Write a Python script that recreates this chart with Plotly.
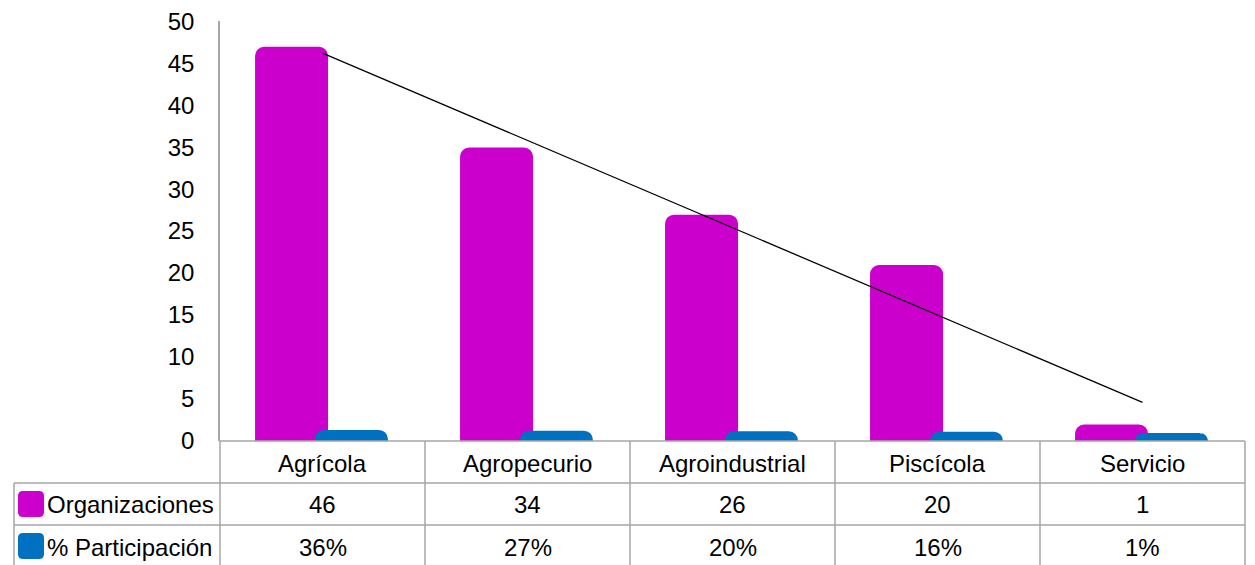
import numpy as np
import plotly.graph_objects as go

# ---- data ----
categories = ["Agrícola", "Agropecurio", "Agroindustrial", "Piscícola", "Servicio"]
organizaciones = [46, 34, 26, 20, 1]
participacion = [0.36, 0.27, 0.20, 0.16, 0.01]
series_names = ["Organizaciones", "% Participación"]
y_ticks = [0, 5, 10, 15, 20, 25, 30, 35, 40, 45, 50]

MAGENTA = "#CC00CC"
BLUE = "#0070C0"
GRID = "#A6A6A6"
FONT = "Liberation Sans, Arial, sans-serif"
FS = 24

OFF = 8  # page body margin
W, H = 1255 - OFF, 565 - OFF
L, R, T, B = 220 - OFF, 1245 - OFF, 21 - OFF, 441 - OFF


def px(x):
    return (x - OFF - L) / (R - L)


def py(y):
    return (B - (y - OFF)) / (B - T)


# linear trend line on Organizaciones
xi = np.arange(1, len(categories) + 1)
slope, intercept = np.polyfit(xi, organizaciones, 1)
trend = slope * xi + intercept

STROKE = 16
bw = 0.278
fig = go.Figure()
fig.add_trace(go.Bar(
    x=categories, y=organizaciones, name=series_names[0],
    marker=dict(color=MAGENTA, cornerradius=1, line=dict(color=MAGENTA, width=STROKE)),
    width=bw, offset=-0.290, showlegend=False,
))
fig.add_trace(go.Bar(
    x=categories, y=participacion, name=series_names[1],
    marker=dict(color=BLUE, cornerradius=1, line=dict(color=BLUE, width=STROKE)),
    width=bw, offset=0.002, showlegend=False,
))
fig.add_trace(go.Scatter(
    x=categories, y=trend, mode="lines",
    line=dict(color="black", width=1.3), showlegend=False,
))

shapes = []
line = dict(color=GRID, width=1.5)
shapes.append(dict(type="line", xref="paper", yref="paper", x0=0, x1=1,
                   y0=py(441), y1=py(441), line=line))
for yy in (483, 525):
    shapes.append(dict(type="line", xref="paper", yref="paper", x0=px(14), x1=1,
                       y0=py(yy), y1=py(yy), line=line))
n = len(categories)
for i in range(n + 1):
    x = i / n
    shapes.append(dict(type="line", xref="paper", yref="paper", x0=x, x1=x,
                       y0=py(441), y1=py(575), line=line))
shapes.append(dict(type="line", xref="paper", yref="paper", x0=px(14), x1=px(14),
                   y0=py(483), y1=py(575), line=line))


def rounded_rect(x0, y0, x1, y1, r):
    rx = r / (R - L)
    ry = r / (B - T)
    X0, X1 = px(x0), px(x1)
    Y0, Y1 = py(y1), py(y0)
    return (f"M {X0+rx},{Y1} L {X1-rx},{Y1} Q {X1},{Y1} {X1},{Y1-ry} "
            f"L {X1},{Y0+ry} Q {X1},{Y0} {X1-rx},{Y0} L {X0+rx},{Y0} "
            f"Q {X0},{Y0} {X0},{Y0+ry} L {X0},{Y1-ry} Q {X0},{Y1} {X0+rx},{Y1} Z")


for color, yc in ((MAGENTA, 504), (BLUE, 546)):
    shapes.append(dict(type="path", xref="paper", yref="paper",
                       path=rounded_rect(18, yc - 13, 44, yc + 13, 5),
                       fillcolor=color, line=dict(width=0)))

annotations = []
tfont = dict(family=FONT, size=FS, color="black")
for c in categories:
    annotations.append(dict(x=c, xref="x", y=py(463), yref="paper", text=c,
                            showarrow=False, font=tfont, xanchor="center", yanchor="middle"))
for c, v in zip(categories, organizaciones):
    annotations.append(dict(x=c, xref="x", y=py(505), yref="paper", text=f"{v}",
                            showarrow=False, font=tfont, xanchor="center", yanchor="middle"))
for c, v in zip(categories, participacion):
    annotations.append(dict(x=c, xref="x", y=py(547), yref="paper", text=f"{v:.0%}",
                            showarrow=False, font=tfont, xanchor="center", yanchor="middle"))
for name, yc in zip(series_names, (505, 547)):
    annotations.append(dict(x=px(45), xref="paper", y=py(yc), yref="paper", text=name,
                            showarrow=False, font=tfont, xanchor="left", yanchor="middle"))

fig.update_layout(
    width=W, height=H,
    margin=dict(l=L, r=W - R, t=T, b=H - B, pad=0, autoexpand=False),
    paper_bgcolor="white", plot_bgcolor="white",
    barmode="overlay",
    font=dict(family=FONT, size=FS, color="black"),
    xaxis=dict(showticklabels=False, showline=False, showgrid=False, zeroline=False,
               ticks="", range=[-0.5, n - 0.5], automargin=False),
    yaxis=dict(range=[0, 50.02], tickvals=y_ticks, showgrid=False, zeroline=False,
               showline=True, linecolor=GRID, linewidth=1.5, ticks="",
               ticklabeloverflow="allow", automargin=False,
               ticklabelstandoff=19, tickfont=dict(family=FONT, size=FS, color="black")),
    shapes=shapes, annotations=annotations,
)

fig.write_html("out.html")
